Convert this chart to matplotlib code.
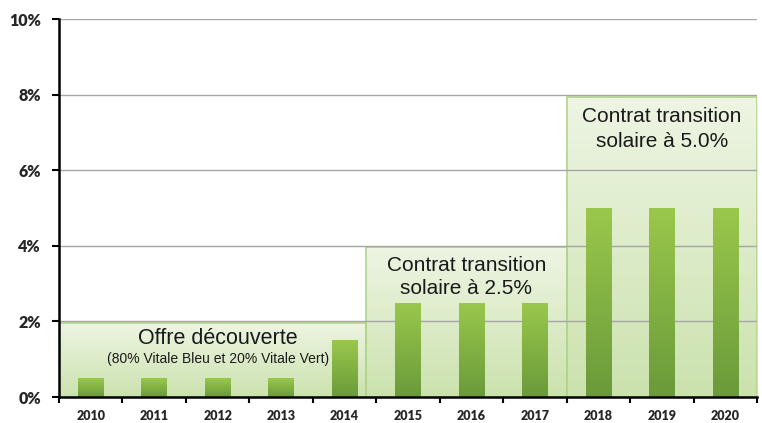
import numpy as np
import matplotlib
matplotlib.use("Agg")
import matplotlib.pyplot as plt
from matplotlib.colors import LinearSegmentedColormap
from matplotlib.patches import Rectangle

years = ['2010', '2011', '2012', '2013', '2014', '2015', '2016', '2017', '2018', '2019', '2020']
rates = [0.5, 0.5, 0.5, 0.5, 1.5, 2.5, 2.5, 2.5, 5.0, 5.0, 5.0]

# offer periods: x start, x end and height of the shaded boxes
period_starts = [-0.5, 4.34, 7.5]
period_ends = [4.34, 7.5, 10.5]
period_tops = [1.96, 3.98, 7.93]

bar_cmap = LinearSegmentedColormap.from_list('bar', ['#6a9a3a', '#9ac84c'])
box_cmap = LinearSegmentedColormap.from_list('box', ['#cbe2ad', '#eef5e4'])
grad = np.linspace(0, 1, 256).reshape(-1, 1)

fig = plt.figure(figsize=(7.62, 4.23), dpi=100)
ax = fig.add_axes([59 / 762, 26 / 423, 698 / 762, 378 / 423])
x = np.arange(len(years))

# background boxes with gradient
for x0, x1, top in zip(period_starts, period_ends, period_tops):
    ax.imshow(grad, cmap=box_cmap, origin='lower', aspect='auto',
              extent=(x0, x1, 0, top), zorder=0.5)
    ax.add_patch(Rectangle((x0, 0), x1 - x0, top, fill=False,
                           edgecolor='#b2d48a', lw=1.2, zorder=0.6))

# grid
for v in range(2, 11, 2):
    ax.axhline(v, color='#a6a6a6', lw=1, zorder=1)

# bars with gradient fill
bars = ax.bar(x, rates, width=0.4, color='none', zorder=2)
for b in bars:
    im = ax.imshow(grad, cmap=bar_cmap, origin='lower', aspect='auto',
                   extent=(b.get_x(), b.get_x() + b.get_width(), 0, b.get_height()),
                   zorder=2)
    im.set_clip_path(b)
ax.set_xlim(-0.5, 10.5)
ax.set_ylim(0, 10)

txt = dict(ha='center', va='center', color='#1a1a1a', family='Liberation Sans', zorder=3)
ax.text(2.0, 1.56, 'Offre découverte', fontsize=15.5, **txt)
ax.text(2.0, 1.0, '(80% Vitale Bleu et 20% Vitale Vert)', fontsize=10, **txt)
ax.text(5.92, 3.47, 'Contrat transition', fontsize=15, **txt)
ax.text(5.92, 2.86, 'solaire à 2.5%', fontsize=15, **txt)
ax.text(9.0, 7.41, 'Contrat transition', fontsize=15, **txt)
ax.text(9.0, 6.75, 'solaire à 5.0%', fontsize=15, **txt)

# axes styling
for s in ['top', 'right']:
    ax.spines[s].set_visible(False)
for s in ['left', 'bottom']:
    ax.spines[s].set_linewidth(1.8)
    ax.spines[s].set_zorder(4)

ax.set_yticks(range(0, 11, 2))
ax.set_yticklabels([f'{v}%' for v in range(0, 11, 2)], fontsize=11.5,
                   fontweight='heavy', family='Lato', color='#262626')
ax.tick_params(axis='y', length=5, width=1.5, pad=8)

ax.set_xticks(np.arange(-0.5, 11, 1))
ax.set_xticklabels([])
ax.tick_params(axis='x', which='major', length=4, width=1.5)
ax.set_xticks(x, minor=True)
ax.set_xticklabels(years, minor=True, fontsize=9, fontweight='heavy',
                   family='Lato', color='#262626')
ax.tick_params(axis='x', which='minor', length=0, pad=9)

fig.savefig('out.png', dpi=100)
